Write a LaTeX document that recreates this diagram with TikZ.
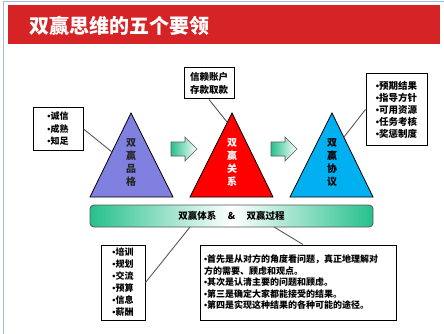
\documentclass[tikz,border=0pt]{standalone}
\usepackage{fontspec}
\setmainfont{Noto Sans CJK SC}
\newfontfamily\latinf{Liberation Sans}
\newcommand\mybul{{\latinf •}}
\usetikzlibrary{shapes.geometric}
\definecolor{titlered}{RGB}{214,36,38}
\definecolor{framec}{RGB}{165,185,215}
\definecolor{tripurple}{RGB}{128,128,224}
\definecolor{trired}{RGB}{255,0,0}
\definecolor{triblue}{RGB}{0,176,240}
\definecolor{gradgreen}{RGB}{38,192,140}
\definecolor{linkgray}{RGB}{90,90,90}
\tikzset{
  box/.style={draw=black, line width=1pt, fill=white, align=center, inner sep=0pt,
    font=\bfseries\fontsize{9}{12.5}\selectfont},
  tri/.style={draw=black, line width=0.8pt},
  tritext/.style={align=center, inner sep=0pt, font=\bfseries\fontsize{10}{13}\selectfont},
  link/.style={draw=linkgray, line width=0.9pt},
  blockarrow/.style={draw=linkgray, line width=0.7pt, left color=gradgreen, right color=white},
}
\begin{document}
\begin{tikzpicture}[x=1pt,y=-1pt]
\useasboundingbox (0,0) rectangle (444,334);
\fill[white] (0,0) rectangle (444,334);
% slide frame
\draw[framec, line width=1pt] (3,334) -- (3,1.5) -- (444,1.5);
% title bar
\fill[titlered] (8,5) rectangle (440,44);
\node[anchor=west, inner sep=0pt, text=white, font=\bfseries\fontsize{20}{22}\selectfont] (title) at (29,26) {双赢思维的五个要领};

% triangles
\path[tri, fill=tripurple] (90,197) -- (131,113) -- (173,197) -- cycle;
\path[tri, fill=trired] (190,197) -- (232,113) -- (273,197) -- cycle;
\path[tri, fill=triblue] (290,197) -- (332,113) -- (373,197) -- cycle;
\node[tritext, text=black!85] (t1) at (131,162.5) {双\\赢\\品\\格};
\node[tritext, text=white] (t2) at (232,162.5) {双\\赢\\关\\系};
\node[tritext, text=black] (t3) at (332,162.5) {双\\赢\\协\\议};
\coordinate (e1) at (112,152);
\coordinate (e2) at (227,122);
\coordinate (e3) at (344,137);

% block arrows
\path[blockarrow] (171,142) -- (185,142) -- (185,137) -- (197,149) -- (185,161) -- (185,156) -- (171,156) -- cycle;
\path[blockarrow] (271,142) -- (285,142) -- (285,137) -- (297,149) -- (285,161) -- (285,156) -- (271,156) -- cycle;

% bar
\node[draw=linkgray, line width=0.9pt, rounded corners=4pt, minimum width=283pt, minimum height=22pt,
  left color=gradgreen, right color=gradgreen, middle color=white, inner sep=0pt,
  font=\bfseries\fontsize{9.5}{11}\selectfont] (bar) at (231.5,216) {双赢体系\hspace{1.2em}\&\hspace{1.2em}双赢过程};
\coordinate (b1) at (190,227);
\coordinate (b2) at (274,227);

% boxes
\node[box, minimum width=50pt, minimum height=42pt] (qual) at (58,129) {\mybul 诚信\\\mybul 成熟\\\mybul 知足};
\node[box, minimum width=50pt, minimum height=31pt, font=\bfseries\fontsize{9.5}{13}\selectfont] (acct) at (209,83.5) {信赖账户\\存款取款};
\node[box, minimum width=61pt, minimum height=71pt, font=\bfseries\fontsize{9.5}{12}\selectfont] (agree) at (396.5,109.5) {\mybul 预期结果\\\mybul 指导方针\\\mybul 可用资源\\\mybul 任务考核\\\mybul 奖惩制度};
\node[box, minimum width=44pt, minimum height=75pt, font=\bfseries\fontsize{9}{12}\selectfont] (sys) at (123,282.5) {\mybul 培训\\\mybul 规划\\\mybul 交流\\\mybul 预算\\\mybul 信息\\\mybul 薪酬};
\node[box, minimum width=196pt, minimum height=75pt, text width=188pt, align=left,
  font=\bfseries\fontsize{9}{11.5}\selectfont] (proc) at (298,282.5)
  {\mybul 首先是从对方的角度看问题，真正地理解对\\方的需要、顾虑和观点。\\\mybul 其次是认清主要的问题和顾虑。\\\mybul 第三是确定大家都能接受的结果。\\\mybul 第四是实现这种结果的各种可能的途径。};

% connectors
\draw[link] (qual.east) -- (e1);
\draw[link] (acct.south) -- (e2);
\draw[link] (agree.west) -- (e3);
\draw[link] (b1) -- (sys.east);
\draw[link] (b2) -- (proc.north -| 303,0);
\end{tikzpicture}
\end{document}
